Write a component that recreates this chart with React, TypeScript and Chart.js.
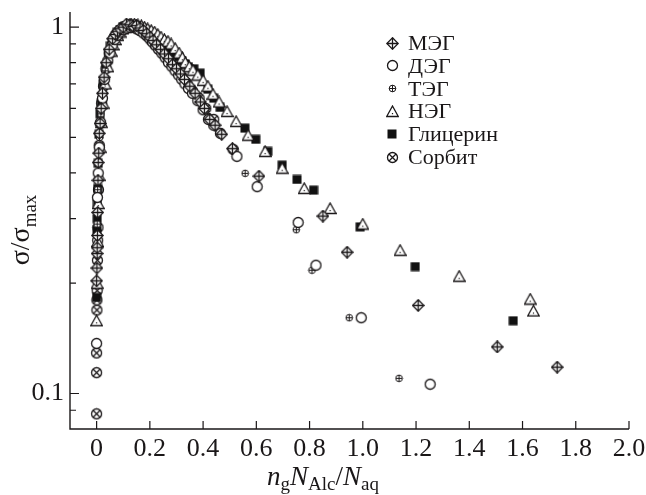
import React, { useEffect, useRef } from "react";
import { Chart, registerables } from "chart.js";

Chart.register(...registerables);

// ---------- data ----------
const seriesNames = ["МЭГ", "ДЭГ", "ТЭГ", "НЭГ", "Глицерин", "Сорбит"];

const megX = [0.000, 0.001, 0.002, 0.002, 0.003, 0.004, 0.005, 0.006, 0.008, 0.010, 0.013, 0.017, 0.022, 0.028, 0.036, 0.047, 0.060, 0.070, 0.078, 0.088, 0.100, 0.112, 0.125, 0.138, 0.150, 0.163, 0.175, 0.188, 0.200, 0.212, 0.225, 0.240, 0.255, 0.270, 0.285, 0.300, 0.315, 0.330, 0.350, 0.370, 0.390, 0.405, 0.425, 0.445, 0.470, 0.510, 0.610, 0.850, 0.941, 1.208, 1.505, 1.730];
const megY = [0.203, 0.220, 0.241, 0.250, 0.270, 0.312, 0.382, 0.427, 0.453, 0.513, 0.546, 0.600, 0.660, 0.730, 0.800, 0.870, 0.930, 0.955, 0.975, 0.990, 1.000, 1.020, 1.015, 1.005, 1.010, 0.995, 0.980, 0.960, 0.940, 0.920, 0.895, 0.870, 0.845, 0.820, 0.790, 0.770, 0.745, 0.720, 0.690, 0.660, 0.625, 0.600, 0.560, 0.540, 0.510, 0.466, 0.392, 0.305, 0.243, 0.174, 0.134, 0.118];

const degX = [0.000, 0.003, 0.006, 0.010, 0.015, 0.022, 0.030, 0.042, 0.050, 0.058, 0.068, 0.078, 0.088, 0.100, 0.112, 0.125, 0.138, 0.150, 0.162, 0.175, 0.188, 0.200, 0.210, 0.222, 0.233, 0.245, 0.258, 0.270, 0.283, 0.295, 0.308, 0.320, 0.332, 0.345, 0.360, 0.380, 0.400, 0.420, 0.440, 0.465, 0.527, 0.603, 0.757, 0.824, 0.994, 1.253];
const degY = [0.137, 0.343, 0.400, 0.470, 0.550, 0.640, 0.720, 0.810, 0.850, 0.890, 0.925, 0.950, 0.970, 0.985, 0.995, 1.000, 1.000, 0.990, 0.980, 0.965, 0.950, 0.930, 0.910, 0.890, 0.870, 0.850, 0.825, 0.800, 0.780, 0.760, 0.740, 0.720, 0.700, 0.680, 0.660, 0.630, 0.595, 0.560, 0.540, 0.513, 0.444, 0.367, 0.293, 0.224, 0.161, 0.106];

const tegX = [0.002, 0.004, 0.007, 0.011, 0.016, 0.023, 0.032, 0.044, 0.052, 0.060, 0.070, 0.080, 0.092, 0.105, 0.118, 0.130, 0.143, 0.155, 0.168, 0.180, 0.193, 0.205, 0.218, 0.230, 0.243, 0.255, 0.268, 0.280, 0.293, 0.305, 0.318, 0.330, 0.343, 0.355, 0.370, 0.385, 0.400, 0.420, 0.440, 0.464, 0.558, 0.750, 0.809, 0.949, 1.136];
const tegY = [0.290, 0.360, 0.430, 0.500, 0.580, 0.670, 0.760, 0.840, 0.880, 0.910, 0.940, 0.965, 0.985, 1.000, 1.005, 1.010, 1.000, 0.995, 0.980, 0.965, 0.945, 0.925, 0.905, 0.885, 0.860, 0.840, 0.820, 0.795, 0.775, 0.755, 0.735, 0.715, 0.695, 0.675, 0.650, 0.624, 0.600, 0.570, 0.545, 0.513, 0.399, 0.280, 0.217, 0.161, 0.110];

const negX = [0.000, 0.002, 0.004, 0.006, 0.009, 0.013, 0.018, 0.024, 0.032, 0.042, 0.055, 0.062, 0.070, 0.079, 0.088, 0.098, 0.108, 0.118, 0.130, 0.142, 0.155, 0.168, 0.180, 0.192, 0.205, 0.218, 0.230, 0.242, 0.255, 0.268, 0.280, 0.295, 0.310, 0.322, 0.333, 0.348, 0.362, 0.380, 0.400, 0.418, 0.437, 0.460, 0.490, 0.524, 0.569, 0.633, 0.697, 0.780, 0.877, 1.000, 1.140, 1.362, 1.629, 1.641];
const negY = [0.158, 0.200, 0.260, 0.330, 0.394, 0.470, 0.550, 0.620, 0.700, 0.780, 0.860, 0.895, 0.925, 0.950, 0.970, 0.990, 1.000, 1.010, 1.020, 1.020, 1.015, 1.010, 1.000, 0.990, 0.980, 0.970, 0.955, 0.940, 0.925, 0.915, 0.900, 0.875, 0.850, 0.825, 0.800, 0.780, 0.763, 0.740, 0.716, 0.690, 0.656, 0.625, 0.589, 0.553, 0.507, 0.458, 0.412, 0.363, 0.320, 0.290, 0.246, 0.209, 0.181, 0.168];

const glyX = [0.000, 0.001, 0.002, 0.003, 0.004, 0.006, 0.009, 0.013, 0.018, 0.025, 0.034, 0.045, 0.052, 0.060, 0.069, 0.078, 0.088, 0.098, 0.108, 0.120, 0.132, 0.145, 0.158, 0.170, 0.182, 0.195, 0.208, 0.220, 0.232, 0.245, 0.258, 0.270, 0.282, 0.295, 0.308, 0.320, 0.332, 0.345, 0.365, 0.389, 0.418, 0.440, 0.464, 0.557, 0.598, 0.643, 0.697, 0.753, 0.815, 0.990, 1.197, 1.565];
const glyY = [0.183, 0.279, 0.300, 0.330, 0.363, 0.425, 0.510, 0.580, 0.620, 0.700, 0.780, 0.850, 0.890, 0.920, 0.945, 0.970, 0.985, 1.000, 1.010, 1.015, 1.020, 1.010, 1.000, 0.995, 0.985, 0.970, 0.960, 0.945, 0.930, 0.915, 0.900, 0.880, 0.865, 0.845, 0.830, 0.810, 0.795, 0.780, 0.770, 0.749, 0.677, 0.640, 0.604, 0.530, 0.494, 0.458, 0.420, 0.384, 0.359, 0.285, 0.222, 0.158];

const sorX = [0.000, 0.000, 0.000, 0.001, 0.001, 0.002, 0.003, 0.004, 0.005, 0.007, 0.010, 0.014, 0.019, 0.026, 0.035, 0.047, 0.062, 0.080, 0.090, 0.100, 0.112, 0.125, 0.138, 0.150, 0.163, 0.178, 0.190, 0.205, 0.220, 0.235, 0.250, 0.265, 0.282, 0.300, 0.320, 0.340, 0.360, 0.385, 0.410, 0.440, 0.513];
const sorY = [0.088, 0.114, 0.129, 0.169, 0.180, 0.191, 0.231, 0.262, 0.284, 0.360, 0.476, 0.546, 0.620, 0.690, 0.770, 0.850, 0.920, 0.960, 0.975, 0.990, 1.000, 1.005, 1.005, 0.995, 0.980, 0.965, 0.945, 0.920, 0.895, 0.870, 0.845, 0.820, 0.790, 0.760, 0.730, 0.700, 0.670, 0.640, 0.600, 0.560, 0.464];

const xTickValues = [0, 0.2, 0.4, 0.6, 0.8, 1.0, 1.2, 1.4, 1.6, 1.8, 2.0];
const xTickLabels = ["0", "0.2", "0.4", "0.6", "0.8", "1.0", "1.2", "1.4", "1.6", "1.8", "2.0"];
const yMajorTickValues = [0.1, 1];
const yMajorTickLabels = ["0.1", "1"];
const yMinorTickValues = [0.09, 0.2, 0.3, 0.4, 0.5, 0.6, 0.7, 0.8, 0.9];

// ---------- style ----------
const FONT = "'Liberation Serif', 'Times New Roman', serif";
const INK = "#1a1718";

type MarkerKind = "diamondCross" | "circle" | "circlePlus" | "triangle" | "square" | "circleX";
const markerKinds: MarkerKind[] = ["diamondCross", "circle", "circlePlus", "triangle", "square", "circleX"];

function makeMarker(kind: MarkerKind): HTMLCanvasElement {
  const c = document.createElement("canvas");
  const size = kind === "circlePlus" ? 9 : kind === "square" ? 10 : 13;
  c.width = size;
  c.height = size;
  const g = c.getContext("2d")!;
  g.strokeStyle = INK;
  g.fillStyle = "#ffffff";
  g.lineWidth = 1.3;
  const m = size / 2;
  if (kind === "diamondCross") {
    g.beginPath();
    g.moveTo(m, 0.8);
    g.lineTo(size - 0.8, m);
    g.lineTo(m, size - 0.8);
    g.lineTo(0.8, m);
    g.closePath();
    g.fill();
    g.stroke();
    g.beginPath();
    g.moveTo(m, 0.8);
    g.lineTo(m, size - 0.8);
    g.moveTo(0.8, m);
    g.lineTo(size - 0.8, m);
    g.stroke();
  } else if (kind === "circle") {
    g.beginPath();
    g.arc(m, m, 5.0, 0, Math.PI * 2);
    g.fill();
    g.stroke();
  } else if (kind === "circlePlus") {
    g.lineWidth = 1;
    g.beginPath();
    g.arc(m, m, 3.3, 0, Math.PI * 2);
    g.fill();
    g.stroke();
    g.beginPath();
    g.moveTo(m, m - 3.3);
    g.lineTo(m, m + 3.3);
    g.moveTo(m - 3.3, m);
    g.lineTo(m + 3.3, m);
    g.stroke();
  } else if (kind === "triangle") {
    g.beginPath();
    g.moveTo(m, 1);
    g.lineTo(size - 0.7, size - 1.5);
    g.lineTo(0.7, size - 1.5);
    g.closePath();
    g.fill();
    g.stroke();
    g.fillStyle = INK;
    g.fillRect(m - 0.6, size - 5, 1.2, 1.2);
  } else if (kind === "square") {
    g.fillStyle = "#111111";
    g.fillRect(0.5, 0.5, size - 1, size - 1);
  } else {
    g.beginPath();
    g.arc(m, m, 5.0, 0, Math.PI * 2);
    g.fill();
    g.stroke();
    const d = 3.5;
    g.beginPath();
    g.moveTo(m - d, m - d);
    g.lineTo(m + d, m + d);
    g.moveTo(m - d, m + d);
    g.lineTo(m + d, m - d);
    g.stroke();
  }
  return c;
}

type Run = { t: string; size: number; italic: boolean; shift: number };

function drawRuns(ctx: CanvasRenderingContext2D, runs: Run[], x: number, y: number) {
  let cx = x;
  for (const r of runs) {
    ctx.font = `${r.italic ? "italic " : ""}${r.size}px ${FONT}`;
    ctx.fillText(r.t, cx, y + r.shift);
    cx += ctx.measureText(r.t).width;
  }
}

function runsWidth(ctx: CanvasRenderingContext2D, runs: Run[]) {
  let w = 0;
  for (const r of runs) {
    ctx.font = `${r.italic ? "italic " : ""}${r.size}px ${FONT}`;
    w += ctx.measureText(r.t).width;
  }
  return w;
}

export default function App() {
  const ref = useRef<HTMLCanvasElement | null>(null);

  useEffect(() => {
    const canvas = ref.current;
    if (!canvas) return;
    const markers = markerKinds.map((k) => makeMarker(k));
    const xs = [megX, degX, tegX, negX, glyX, sorX];
    const ys = [megY, degY, tegY, negY, glyY, sorY];

    const datasets = seriesNames.map((name, i) => ({
      label: name,
      data: xs[i].map((x, j) => ({ x, y: ys[i][j] })),
      pointStyle: markers[i] as any,
      pointRadius: 5,
      showLine: false,
      borderColor: INK,
      backgroundColor: "#ffffff",
    }));

    const decor = {
      id: "decor",
      beforeDatasetsDraw(chart: any) {
        const { ctx, chartArea: ca, scales } = chart;
        const sx = scales.x;
        const sy = scales.y;
        ctx.save();
        ctx.strokeStyle = INK;
        ctx.lineWidth = 1.4;
        ctx.beginPath();
        ctx.moveTo(ca.left, ca.top);
        ctx.lineTo(ca.left, ca.bottom);
        ctx.lineTo(ca.right, ca.bottom);
        ctx.stroke();
        ctx.lineWidth = 1.2;
        ctx.beginPath();
        for (const v of xTickValues) {
          const px = sx.getPixelForValue(v);
          ctx.moveTo(px, ca.bottom);
          ctx.lineTo(px, ca.bottom - 8);
        }
        for (const v of yMajorTickValues) {
          const py = sy.getPixelForValue(v);
          ctx.moveTo(ca.left, py);
          ctx.lineTo(ca.left + 9, py);
        }
        for (const v of yMinorTickValues) {
          const py = sy.getPixelForValue(v);
          ctx.moveTo(ca.left, py);
          ctx.lineTo(ca.left + 6, py);
        }
        ctx.stroke();
        ctx.restore();
      },
      afterDraw(chart: any) {
        const { ctx } = chart;
        ctx.save();
        ctx.fillStyle = INK;
        // legend
        const lx = 392;
        const ly0 = 43;
        const step = 22.8;
        seriesNames.forEach((name, i) => {
          const cy = ly0 + i * step;
          const mk = markers[i];
          ctx.drawImage(mk, Math.round(lx - mk.width / 2), Math.round(cy - mk.height / 2));
          ctx.font = `22px ${FONT}`;
          ctx.textBaseline = "alphabetic";
          ctx.textAlign = "left";
          ctx.fillText(name, 408, cy + 7);
        });
        // x title
        const xr: Run[] = [
          { t: "n", size: 27, italic: true, shift: 0 },
          { t: "g", size: 19, italic: false, shift: 5 },
          { t: "N", size: 27, italic: true, shift: 0 },
          { t: "Alc", size: 19, italic: false, shift: 5 },
          { t: "/", size: 27, italic: false, shift: 0 },
          { t: "N", size: 27, italic: true, shift: 0 },
          { t: "aq", size: 19, italic: false, shift: 5 },
        ];
        ctx.textAlign = "left";
        ctx.textBaseline = "alphabetic";
        const xw = runsWidth(ctx, xr);
        drawRuns(ctx, xr, 323 - xw / 2, 485);
        // y title
        const yr: Run[] = [
          { t: "σ/σ", size: 28, italic: false, shift: 0 },
          { t: "max", size: 19, italic: false, shift: 7 },
        ];
        const yw = runsWidth(ctx, yr);
        ctx.translate(29, 230);
        ctx.rotate(-Math.PI / 2);
        drawRuns(ctx, yr, -yw / 2, 0);
        ctx.restore();
      },
    };

    const chart = new Chart(canvas, {
      type: "scatter",
      data: { datasets },
      options: {
        responsive: false,
        animation: false,
        devicePixelRatio: 1,
        layout: { padding: { left: 0, top: 12, right: 17, bottom: 0 } },
        plugins: { legend: { display: false }, tooltip: { enabled: false } },
        scales: {
          x: {
            type: "linear",
            min: -0.1,
            max: 2.0,
            grid: { display: false, drawTicks: false },
            border: { display: false },
            afterBuildTicks: (s: any) => {
              s.ticks = xTickValues.map((v) => ({ value: v }));
            },
            afterFit: (s: any) => {
              s.height = 66;
              s.paddingLeft = 0;
              s.paddingRight = 0;
            },
            ticks: {
              autoSkip: false,
              maxRotation: 0,
              padding: 5,
              color: INK,
              font: { family: FONT, size: 26 },
              callback: (v: any) => {
                const i = xTickValues.findIndex((t) => Math.abs(t - Number(v)) < 1e-9);
                return i >= 0 ? xTickLabels[i] : "";
              },
            },
          },
          y: {
            type: "logarithmic",
            min: 0.08,
            max: 1.1,
            grid: { display: false, drawTicks: false },
            border: { display: false },
            afterBuildTicks: (s: any) => {
              s.ticks = yMajorTickValues.map((v) => ({ value: v }));
            },
            afterFit: (s: any) => {
              s.width = 70;
              s.paddingTop = 0;
              s.paddingBottom = 0;
            },
            ticks: {
              autoSkip: false,
              padding: 6,
              color: INK,
              font: { family: FONT, size: 26 },
              callback: (v: any) => {
                const i = yMajorTickValues.findIndex((t) => Math.abs(t - Number(v)) < 1e-9);
                return i >= 0 ? yMajorTickLabels[i] : "";
              },
            },
          },
        },
      },
      plugins: [decor],
    });
    return () => chart.destroy();
  }, []);

  return (
    <div style={{ position: "fixed", left: 0, top: 0, width: 646, height: 495, background: "#fff" }}>
      <canvas ref={ref} width={646} height={495} style={{ display: "block" }} />
    </div>
  );
}
